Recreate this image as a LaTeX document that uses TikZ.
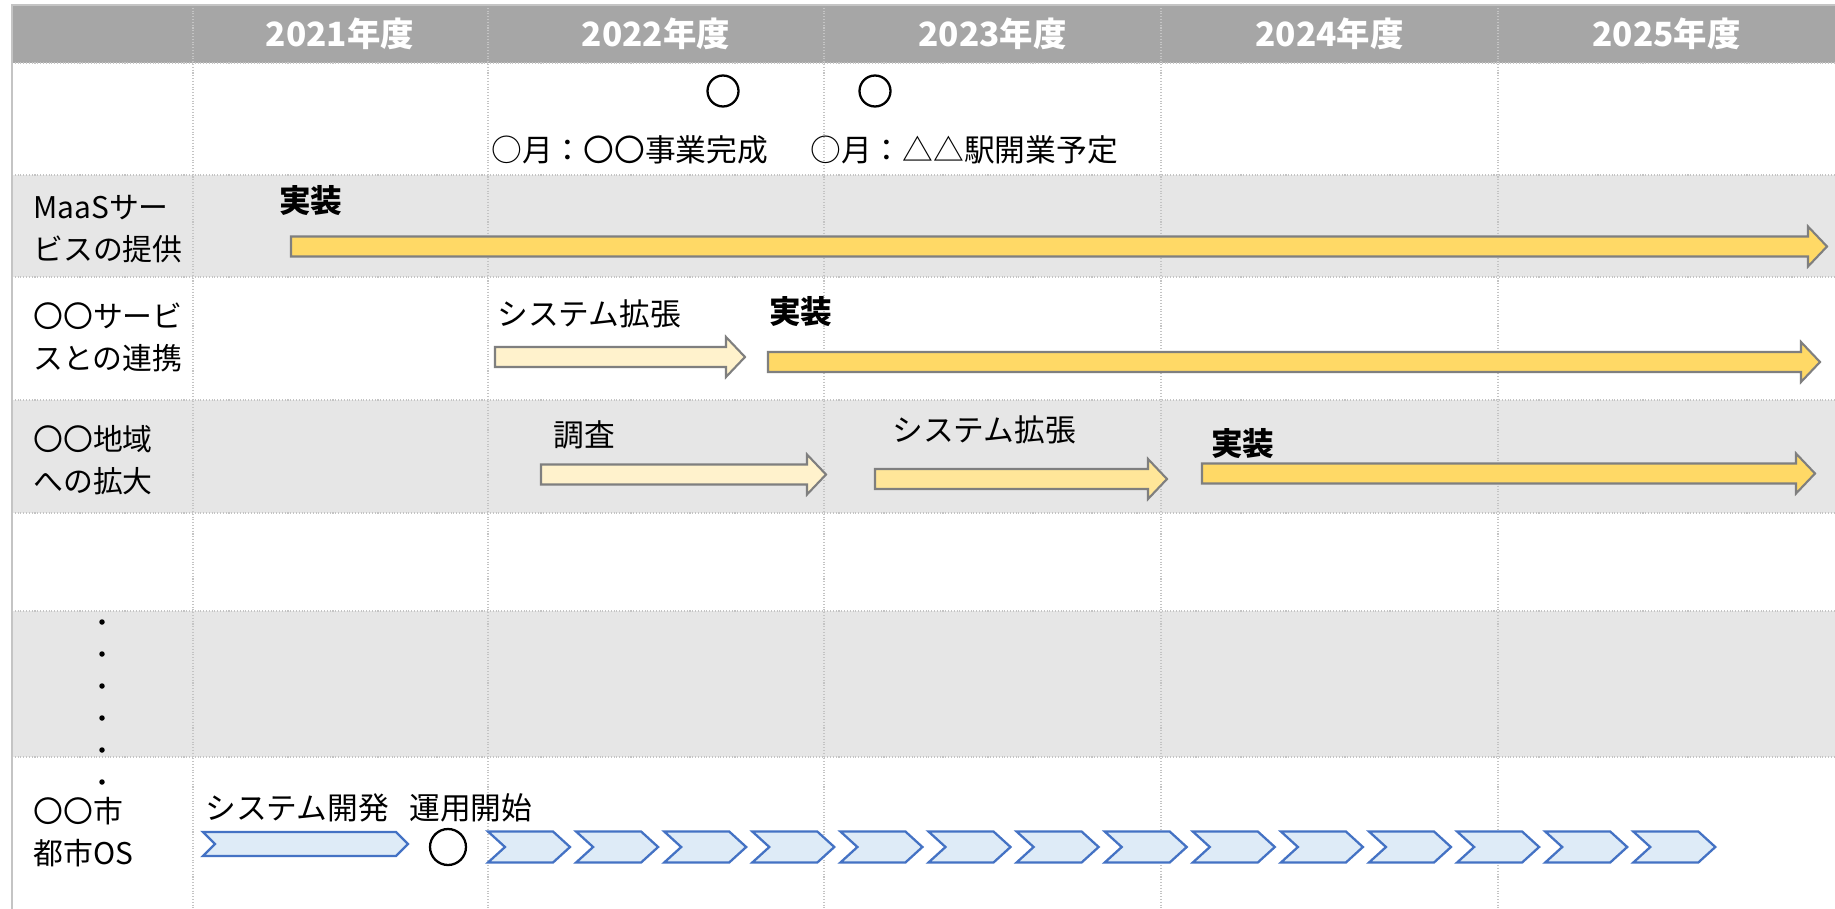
\documentclass[tikz,border=0pt]{standalone}
\usepackage{fontspec}
\setmainfont{Noto Sans CJK JP}
\definecolor{hdr}{HTML}{A6A6A6}
\definecolor{rowg}{HTML}{E6E6E6}
\definecolor{gridc}{HTML}{C4C4C4}
\definecolor{ygold}{HTML}{FFD966}
\definecolor{ylight}{HTML}{FFF2CC}
\definecolor{ymid}{HTML}{FFE699}
\definecolor{aout}{HTML}{7F7F7F}
\definecolor{cfill}{HTML}{DEEBF7}
\definecolor{cout}{HTML}{4472C4}
\tikzset{
  gridline/.style={gridc, line width=0.6pt, densely dotted},
  borderline/.style={gridc, line width=0.8pt},
  hdrtext/.style={text=white, font=\fontsize{19}{22}\selectfont\bfseries, inner sep=0pt},
  lbl/.style={font=\fontsize{17.5}{24}\selectfont, inner sep=0pt, anchor=west},
  rowlbl/.style={font=\fontsize{17}{23.8}\selectfont, inner sep=0pt, anchor=west, align=left},
  boldlbl/.style={font=\fontsize{18}{22}\selectfont\bfseries, inner sep=0pt, anchor=west},
  barstyle/.style={draw=aout, line width=1.2pt, line join=miter},
  chevstyle/.style={draw=cout, fill=cfill, line width=1.3pt, line join=miter},
  milestone/.style={circle, draw=black, line width=1.3pt, inner sep=0pt},
  dotmark/.style={circle, fill=black, inner sep=0pt, minimum size=5.5*0.569pt}
}
\newcommand\ganttarrow[4]{%
  \draw[barstyle, fill=#4] (#1,#3-10) -- (#2-19,#3-10) -- (#2-19,#3-20) -- (#2,#3)
    -- (#2-19,#3+20) -- (#2-19,#3+10) -- (#1,#3+10) -- cycle;}
\newcommand\chevshape[5]{%
  \draw[chevstyle] (#1,#3-#4) -- (#1+#2-#5,#3-#4) -- (#1+#2,#3) -- (#1+#2-#5,#3+#4)
    -- (#1,#3+#4) -- (#1+#5,#3) -- cycle;}
\begin{document}
\begin{tikzpicture}[x=0.02cm, y=-0.02cm]
\useasboundingbox (0,0) rectangle (1835,909);
\fill[white] (0,0) rectangle (1835,909);
% header and shaded rows
\fill[hdr] (12,5) rectangle (1835,63);
\fill[rowg] (12,175) rectangle (1835,277);
\fill[rowg] (12,400) rectangle (1835,513);
\fill[rowg] (12,611) rectangle (1835,757);
% grid
\foreach \x in {193,488,824,1161,1498} \draw[gridline] (\x,5) -- (\x,909);
\foreach \y in {63,175,277,400,513,611,757} \draw[gridline] (12,\y) -- (1835,\y);
\draw[borderline] (12,909) -- (12,5) -- (1835,5);
% header labels
\node[hdrtext] (h1) at (340,34) {2021年度};
\node[hdrtext] (h2) at (656,34) {2022年度};
\node[hdrtext] (h3) at (992.5,34) {2023年度};
\node[hdrtext] (h4) at (1329.5,34) {2024年度};
\node[hdrtext] (h5) at (1666.5,34) {2025年度};
% row labels
\node[rowlbl] (r1) at (33,229) {MaaSサー\\ビスの提供};
\node[rowlbl] (r2) at (33,337) {〇〇サービ\\スとの連携};
\node[rowlbl] (r3) at (33,460) {〇〇地域\\への拡大};
\node[rowlbl] (r7) at (33,832) {〇〇市\\都市OS};
\foreach \y [count=\i] in {622,654,686,718,750,782} \node[dotmark] (dot\i) at (102,\y) {};
% milestones row
\node[milestone, minimum size=31*0.569pt] (m1) at (723,91) {};
\node[milestone, minimum size=31*0.569pt] (m2) at (875,91) {};
\node[lbl] (t1) at (491,150) {○月：〇〇事業完成};
\node[lbl] (t2) at (810,150) {○月：△△駅開業予定};
% MaaS row
\node[boldlbl] (k1) at (279,201) {実装};
\ganttarrow{291}{1827}{246.5}{ygold}
% service row
\node[lbl] (s1) at (497,314) {システム拡張};
\ganttarrow{495}{745}{357}{ylight}
\node[boldlbl] (k2) at (769,312) {実装};
\ganttarrow{768}{1820}{362}{ygold}
% region row
\node[lbl] (s2) at (553,435) {調査};
\ganttarrow{541}{826}{474.5}{ylight}
\node[lbl] (s3) at (892,430) {システム拡張};
\ganttarrow{875}{1167}{479}{ymid}
\node[boldlbl] (k3) at (1211,444) {実装};
\ganttarrow{1202}{1815}{473.5}{ygold}
% city OS row
\node[lbl] (s4) at (205,808) {システム開発};
\node[lbl] (s5) at (409,808) {運用開始};
\chevshape{203}{205}{844}{12}{12}
\node[milestone, minimum size=36*0.569pt] (m3) at (448,847) {};
\foreach \i in {0,...,13} {\chevshape{488+\i*88.1}{82}{847}{15.5}{17}}
\end{tikzpicture}
\end{document}
